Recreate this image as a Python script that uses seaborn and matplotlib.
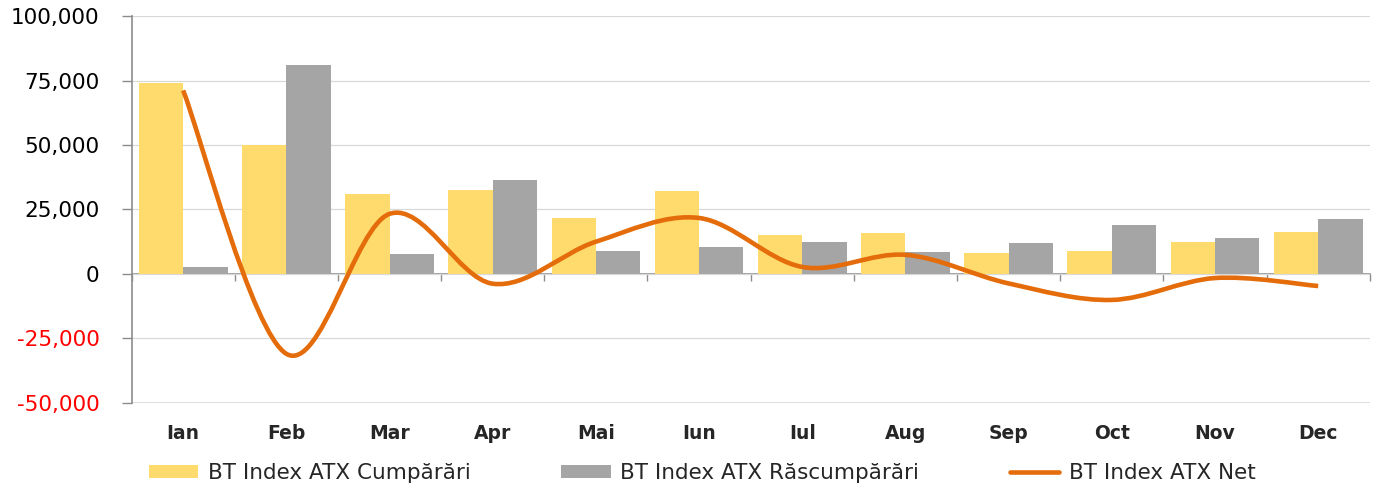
import numpy as np
import pandas as pd
import matplotlib
matplotlib.use("Agg")
import matplotlib.pyplot as plt
import seaborn as sns
from matplotlib.path import Path
from matplotlib.patches import PathPatch, Patch
from matplotlib.lines import Line2D

months = ['Ian', 'Feb', 'Mar', 'Apr', 'Mai', 'Iun', 'Iul', 'Aug', 'Sep', 'Oct', 'Nov', 'Dec']
cumparari = [74200, 50000, 31000, 32600, 21700, 32200, 15100, 15900, 8100, 8800, 12400, 16400]
rascumparari = [2800, 81000, 7800, 36400, 8900, 10500, 12400, 8500, 11800, 19000, 14000, 21200]
net = [71200, -31000, 23300, -3800, 12500, 21700, 2700, 7400, -3700, -10100, -1600, -4700]
series_names = ['BT Index ATX Cumpărări', 'BT Index ATX Răscumpărări', 'BT Index ATX Net']
y_ticks = [-50000, -25000, 0, 25000, 50000, 75000, 100000]

YELLOW = '#FFDB6E'
GRAY = '#A5A5A5'
ORANGE = '#E46C0A'

df = pd.DataFrame({
    'month': months * 2,
    'value': cumparari + rascumparari,
    'series': [series_names[0]] * 12 + [series_names[1]] * 12,
})

sns.set_style('white')
plt.rcParams['font.family'] = ['DejaVu Sans']

fig = plt.figure(figsize=(13.85, 4.9), dpi=100)
ax = fig.add_axes([0.095, 0.178, 0.894, 0.789])

sns.barplot(data=df, x='month', y='value', hue='series', palette=[YELLOW, GRAY],
            width=0.86, saturation=1, gap=0, linewidth=0, ax=ax, legend=False, zorder=2)

# smoothed net line (Excel-like bezier through the monthly points)
xs = np.arange(len(net), dtype=float)
ys = np.array(net, dtype=float)
pts = np.column_stack([xs, ys])
verts = [pts[0]]
codes = [Path.MOVETO]
n = len(pts)
for i in range(n - 1):
    p_prev = pts[max(i - 1, 0)]
    p_next2 = pts[min(i + 2, n - 1)]
    c1 = pts[i] + (pts[i + 1] - p_prev) / 6
    c2 = pts[i + 1] - (p_next2 - pts[i]) / 6
    verts += [c1, c2, pts[i + 1]]
    codes += [Path.CURVE4] * 3
ax.add_patch(PathPatch(Path(verts, codes), facecolor='none', edgecolor=ORANGE,
                       lw=3.3, capstyle='butt', zorder=4))

ax.set_xlim(-0.5, 11.5)
ax.set_ylim(-50000, 100000)
ax.set_yticks(y_ticks)
ax.set_yticklabels([f'{v:,}' for v in y_ticks])
for lab, v in zip(ax.get_yticklabels(), y_ticks):
    lab.set_color('#FF0000' if v < 0 else 'black')
ax.tick_params(axis='y', direction='out', length=7, width=1, color='#8C8C8C',
               labelsize=15.5, pad=16, left=True)
ax.tick_params(axis='x', length=0, labelsize=13.5, pad=15)
for lab in ax.get_xticklabels():
    lab.set_fontweight('bold')
ax.set_xlabel('')
ax.set_ylabel('')

ax.grid(axis='y', color='#D9D9D9', lw=0.9, zorder=0)
ax.set_axisbelow(True)
for s in ['top', 'right', 'bottom']:
    ax.spines[s].set_visible(False)
ax.spines['left'].set_color('#8C8C8C')
ax.spines['left'].set_linewidth(1.2)
ax.axhline(-50000, color='#D9D9D9', lw=1.2, zorder=0)

# category axis drawn at zero
sec = ax.secondary_xaxis(50000 / 150000)
sec.set_xticks(np.arange(-0.5, 12, 1))
sec.set_xticklabels([])
sec.tick_params(direction='out', length=5, width=1, color='#8C8C8C')
sec.spines['bottom'].set_color('#8C8C8C')
sec.spines['bottom'].set_linewidth(1.2)

handles = [Patch(facecolor=YELLOW, edgecolor='none'),
           Patch(facecolor=GRAY, edgecolor='none'),
           Line2D([0], [0], color=ORANGE, lw=3.3)]
fig.legend(handles, series_names, loc='center', bbox_to_anchor=(0.507, 0.035), ncol=3,
           frameon=False, fontsize=15.5, handlelength=2.3, handleheight=0.55,
           handletextpad=0.45, columnspacing=4.2)

fig.savefig('out.png', dpi=100)
